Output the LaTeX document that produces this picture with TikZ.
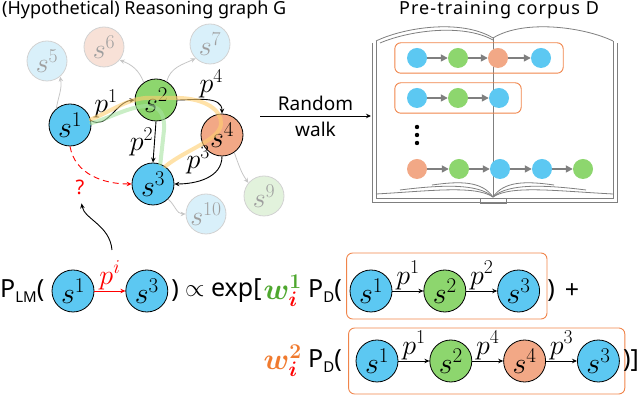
\RequirePackage{fix-cm}
\documentclass[tikz,border=0pt]{standalone}
\usepackage[no-math]{fontspec}
\setmainfont{Noto Sans}
\usepackage{bm}
\usepackage{xcolor}
\usetikzlibrary{arrows.meta,positioning,fit,calc}

\definecolor{sblue}{HTML}{5CC8F2}
\definecolor{sgreen}{HTML}{8DD66E}
\definecolor{sorange}{HTML}{F2A886}
\definecolor{fblue}{HTML}{D9F0FA}
\definecolor{fpink}{HTML}{F8E1D7}
\definecolor{fgreen}{HTML}{E2F2DC}
\definecolor{boxorange}{HTML}{F0844A}
\definecolor{wgreen}{HTML}{4EA72E}
\definecolor{worange}{HTML}{F07A2E}
\definecolor{hlyellow}{HTML}{FFCF70}
\definecolor{hlgreen}{HTML}{A6E3A0}
\definecolor{bookgray}{HTML}{7F7F7F}

\begin{document}
\begin{tikzpicture}[
  x=1pt, y=1pt,
  >={Stealth[length=5pt,width=4.5pt]},
  every node/.style={font=\fontsize{18}{20}\selectfont},
  state/.style={circle, draw, line width=0.8pt, minimum size=42pt, inner sep=0pt, font=\fontsize{30}{30}\selectfont},
  faded/.style={circle, draw=gray!35, line width=0.8pt, minimum size=40pt, inner sep=0pt, text=gray!75, font=\fontsize{28}{28}\selectfont},
  lbl/.style={font=\fontsize{28}{28}\selectfont, inner sep=1pt},
  side/.style={->, gray!45, line width=0.8pt},
  edge/.style={->, line width=0.9pt},
  hl/.style={line width=4pt, opacity=0.6, line cap=round},
  tok/.style={circle, minimum size=20pt, inner sep=0pt},
  walk/.style={-{Triangle[length=7pt,width=7pt]}, bookgray, line width=1.6pt},
  seqbox/.style={draw=boxorange, line width=0.9pt, rounded corners=6pt},
  bookline/.style={draw=bookgray, line width=0.8pt},
  frm/.style={font=\fontsize{25}{25}\selectfont, inner sep=0pt},
  wt/.style={font=\fontsize{30}{30}\selectfont, inner sep=0pt}
]
\useasboundingbox (0,0) rectangle (640,395);

% titles
\node[anchor=base west, inner sep=0pt] (gtitle) at (2,380) {(Hypothetical) Reasoning graph G};
\node[anchor=base, inner sep=0pt] (dtitle) at (499,380) {\addfontfeature{LetterSpace=6}Pre-training corpus D};

% reasoning graph
\node[state, fill=sblue] (s1) at (70,270) {$s^1$};
\node[state, fill=sgreen] (s2) at (156,295) {$s^2$};
\node[state, fill=sorange] (s4) at (222,260) {$s^4$};
\node[state, fill=sblue] (s3) at (153,211) {$s^3$};
\node[faded, fill=fblue] (s5) at (47,334) {$s^5$};
\node[faded, fill=fpink] (s6) at (104,348) {$s^6$};
\node[faded, fill=fblue] (s7) at (210,351) {$s^7$};
\node[faded, fill=fgreen] (s9) at (264,199) {$s^9$};
\node[faded, fill=fblue] (s10) at (206,181) {$s^{10}$};
\node[text=red, inner sep=0pt, font=\bfseries\fontsize{20}{20}\selectfont] (q) at (80,208) {?};

\draw[side] (s1.130) to[out=80, in=-80] (s5.-50);
\draw[side] (s2.125) to[out=110, in=-20] (s6.-40);
\draw[side] (s2.60) to[out=75, in=-155] (s7.-135);
\draw[side] (s4.-55) to[out=-70, in=125] (s9.140);
\draw[side] (s3.-45) to[out=-40, in=180] (s10.west);

\draw[edge] (s1.12) to[out=-30, in=185] node[lbl, above, pos=0.35] {$p^1$} (s2.west);
\draw[edge] (s2.east) to[out=0, in=90] node[lbl, above right, pos=0.35] {$p^4$} (s4.north);
\draw[edge] (s2.south) -- node[lbl, left] {$p^2$} (s3.north);
\draw[edge] (s4.south) to[out=-90, in=0] node[lbl, above left, pos=0.4] {$p^3$} (s3.east);
\draw[->, red, dashed, dash pattern=on 6pt off 4pt, line width=0.9pt] (s1.south) to[out=-80, in=180] (s3.west);

% highlighted walks
\draw[hl, hlyellow] (s1.15) .. controls (110,283) and (125,295) .. (145,297) -- (180,297)
  .. controls (205,296) and (222,285) .. (221,271) .. controls (220,255) and (185,245) .. (s3.55);
\draw[hl, hlgreen] (s1.5) .. controls (110,277) and (130,289) .. (148,289)
  .. controls (160,289) and (165,280) .. (164,265) -- (s3.70);

% random walk
\coordinate (rw) at (260,279);
\coordinate (bk) at (371,279);
\draw[->, line width=0.9pt] (rw) -- node[above=2pt, font=\fontsize{19}{20}\selectfont] {Random}
  node[below=2pt, font=\fontsize{19}{20}\selectfont] {walk} (bk);

% book
\draw[bookline] (372,352) -- (372,193) -- (617,193) -- (617,352);
\draw[bookline] (376,354) -- (376,197) -- (613,197) -- (613,354);
\draw[bookline] (376,354) .. controls (405,368) and (462,376) .. (493,357)
  .. controls (524,376) and (584,368) .. (613,354);
\draw[bookline] (380,352) .. controls (408,364) and (462,372) .. (493,355);
\draw[bookline] (493,357) -- (493,198);
\draw[bookline] (376,201) .. controls (430,204) and (475,210) .. (493,198);
\draw[bookline] (400,205) .. controls (440,210) and (478,212) .. (493,198);
\draw[bookline] (432,210) .. controls (460,214) and (482,214) .. (493,198);
\draw[bookline] (613,201) .. controls (556,204) and (511,210) .. (493,198);
\draw[bookline] (586,205) .. controls (546,210) and (508,212) .. (493,198);
\draw[bookline] (554,210) .. controls (526,214) and (504,214) .. (493,198);
\draw[bookline] (480,197) rectangle (506,192);

% corpus walks
\node[tok, fill=sblue] (a1) at (417,337) {};
\node[tok, fill=sgreen] (a2) at (458,337) {};
\node[tok, fill=sorange] (a3) at (498,337) {};
\node[tok, fill=sblue] (a4) at (541,337) {};
\node[tok, fill=sblue] (b1) at (417,297) {};
\node[tok, fill=sgreen] (b2) at (458,297) {};
\node[tok, fill=sblue] (b3) at (499,297) {};
\node[tok, fill=sorange] (c1) at (417,226) {};
\node[tok, fill=sgreen] (c2) at (459,226) {};
\node[tok, fill=sblue] (c3) at (500,226) {};
\node[tok, fill=sblue] (c4) at (542,226) {};
\node[tok, fill=sgreen] (c5) at (583,226) {};
\draw[walk] (a1) -- (a2);
\draw[walk] (a2) -- (a3);
\draw[walk] (a3) -- (a4);
\draw[walk] (b1) -- (b2);
\draw[walk] (b2) -- (b3);
\draw[walk] (c1) -- (c2);
\draw[walk] (c2) -- (c3);
\draw[walk] (c3) -- (c4);
\draw[walk] (c4) -- (c5);
\node[seqbox, fit=(a1)(a4), inner xsep=12pt, inner ysep=5pt] (boxa) {};
\node[seqbox, fit=(b1)(b3), inner xsep=12pt, inner ysep=5pt] (boxb) {};
\fill (417,268) circle (2.2pt) (417,260) circle (2.2pt) (417,252) circle (2.2pt);

% P_LM row
\node[frm, anchor=west] (plm) at (0,104) {P\raisebox{-5pt}{\fontsize{15}{15}\selectfont LM}(};
\node[state, fill=sblue] (f1) at (73,104) {$s^1$};
\node[state, fill=sblue, right=31pt of f1] (f3) {$s^3$};
\draw[->, red, line width=0.9pt] (f1) -- node[lbl, text=red, above] (pi) {$p^i$} (f3);
\node[frm] (rpa) at (175,104) {)};
\node[frm, anchor=west] (expo) at (185,104) {$\propto$ exp[};
\node[wt, anchor=east] (wa) at (302,104) {$\color{wgreen}\bm{w}^{\mathbf{1}}_{\color{red}\bm{i}}$};
\node[frm, anchor=west] (pda) at (308,104) {P\raisebox{-5pt}{\fontsize{15}{15}\selectfont D}(};
\coordinate (tail) at (112,145);
\draw[->, line width=0.9pt, shorten >=9pt] (tail) to[out=95, in=-80] (q.south);

% first path
\node[state, fill=sblue] (r1) at (371,104) {$s^1$};
\node[state, fill=sgreen, right=31pt of r1] (r2) {$s^2$};
\node[state, fill=sblue, right=31pt of r2] (r3) {$s^3$};
\draw[edge] (r1) -- node[lbl, above] (la1) {$p^1$} (r2);
\draw[edge] (r2) -- node[lbl, above] (la2) {$p^2$} (r3);
\draw[seqbox] ($(r1.west)+(-3,-28)$) rectangle ($(r3.east)+(7,38)$);
\node[frm] (rpb) at (551,104) {)};
\node[frm] (plus) at (572,104) {+};

% second path
\node[wt, anchor=east] (wb) at (302,34) {$\color{worange}\bm{w}^{\mathbf{2}}_{\color{red}\bm{i}}$};
\node[frm, anchor=west] (pdb) at (308,34) {P\raisebox{-5pt}{\fontsize{15}{15}\selectfont D}(};
\node[state, fill=sblue] (t1) at (377,34) {$s^1$};
\node[state, fill=sgreen, right=31pt of t1] (t2) {$s^2$};
\node[state, fill=sorange, right=31pt of t2] (t4) {$s^4$};
\node[state, fill=sblue, right=31pt of t4] (t3) {$s^3$};
\draw[edge] (t1) -- node[lbl, above] {$p^1$} (t2);
\draw[edge] (t2) -- node[lbl, above] {$p^4$} (t4);
\draw[edge] (t4) -- node[lbl, above] {$p^3$} (t3);
\draw[seqbox] ($(t1.west)+(-7,-33)$) rectangle ($(t3.east)+(5,33)$);
\node[frm, anchor=west] (close) at (623,34) {)]};
\end{tikzpicture}
\end{document}
